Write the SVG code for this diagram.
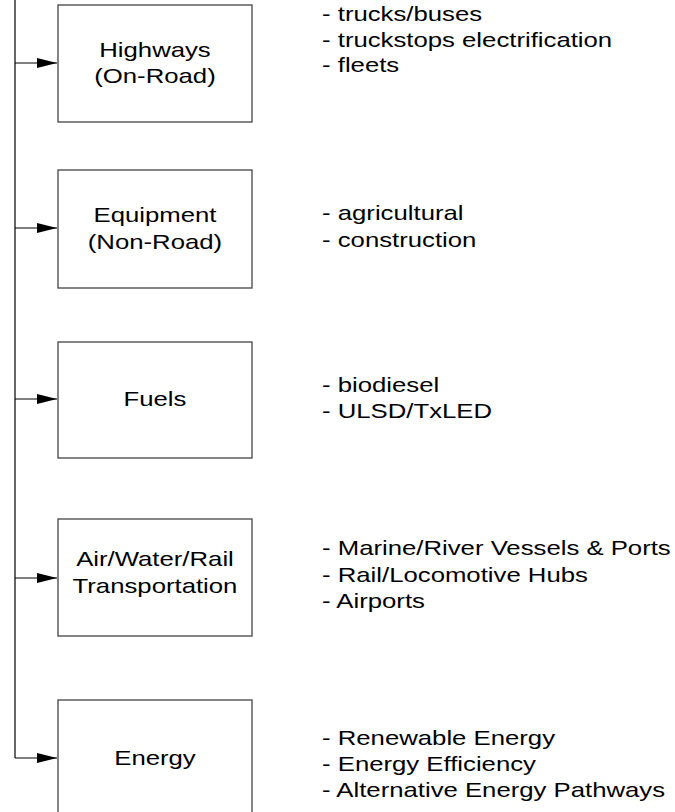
<svg xmlns="http://www.w3.org/2000/svg" width="675" height="812" viewBox="0 0 675 812">
<style>
.box{fill:#fff;stroke:#444;stroke-width:1.3}
.lbl{font-family:"Liberation Sans",Arial,sans-serif;font-size:20.5px;fill:#000;text-anchor:middle}
.note{font-family:"Liberation Sans",Arial,sans-serif;font-size:20.5px;fill:#000}
.con{fill:none;stroke:#000;stroke-width:1.2}
</style>
<defs>
<marker id="arr" markerWidth="20" markerHeight="10" refX="20" refY="5" orient="auto" markerUnits="userSpaceOnUse">
<path d="M0,0 L20,5 L0,10 Z" fill="#000"/>
</marker>
</defs>
<rect width="675" height="812" fill="#fff"/>
<g id="connectors">
<path class="con" d="M15,0 V758"/>
<path class="con" d="M15,63 H57" marker-end="url(#arr)"/>
<path class="con" d="M15,228 H57" marker-end="url(#arr)"/>
<path class="con" d="M15,399 H57" marker-end="url(#arr)"/>
<path class="con" d="M15,578 H57" marker-end="url(#arr)"/>
<path class="con" d="M15,758 H57" marker-end="url(#arr)"/>
</g>
<g id="highways">
<rect class="box" x="58" y="5" width="194" height="117"/>
<g transform="scale(1.255,1)">
<text class="lbl" x="123.5" y="57">Highways</text>
<text class="lbl" x="123.5" y="83">(On-Road)</text>
</g>
</g>
<g id="equipment">
<rect class="box" x="58" y="170" width="194" height="118"/>
<g transform="scale(1.255,1)">
<text class="lbl" x="123.5" y="222">Equipment</text>
<text class="lbl" x="123.5" y="249">(Non-Road)</text>
</g>
</g>
<g id="fuels">
<rect class="box" x="58" y="342" width="194" height="116"/>
<g transform="scale(1.255,1)">
<text class="lbl" x="123.5" y="406">Fuels</text>
</g>
</g>
<g id="airwaterrail">
<rect class="box" x="58" y="519" width="194" height="117"/>
<g transform="scale(1.255,1)">
<text class="lbl" x="123.5" y="566">Air/Water/Rail</text>
<text class="lbl" x="123.5" y="593">Transportation</text>
</g>
</g>
<g id="energy">
<rect class="box" x="58" y="700" width="194" height="130"/>
<g transform="scale(1.255,1)">
<text class="lbl" x="123.5" y="765">Energy</text>
</g>
</g>
<g id="notes" transform="scale(1.255,1)">
<text class="note" x="256.6" y="21">- trucks/buses</text>
<text class="note" x="256.6" y="47">- truckstops electrification</text>
<text class="note" x="256.6" y="72">- fleets</text>
<text class="note" x="256.6" y="220">- agricultural</text>
<text class="note" x="256.6" y="247">- construction</text>
<text class="note" x="256.6" y="392">- biodiesel</text>
<text class="note" x="256.6" y="418">- ULSD/TxLED</text>
<text class="note" x="256.6" y="555">- Marine/River Vessels &amp; Ports</text>
<text class="note" x="256.6" y="582">- Rail/Locomotive Hubs</text>
<text class="note" x="256.6" y="608">- Airports</text>
<text class="note" x="256.6" y="745">- Renewable Energy</text>
<text class="note" x="256.6" y="771">- Energy Efficiency</text>
<text class="note" x="256.6" y="797">- Alternative Energy Pathways</text>
</g>
</svg>
